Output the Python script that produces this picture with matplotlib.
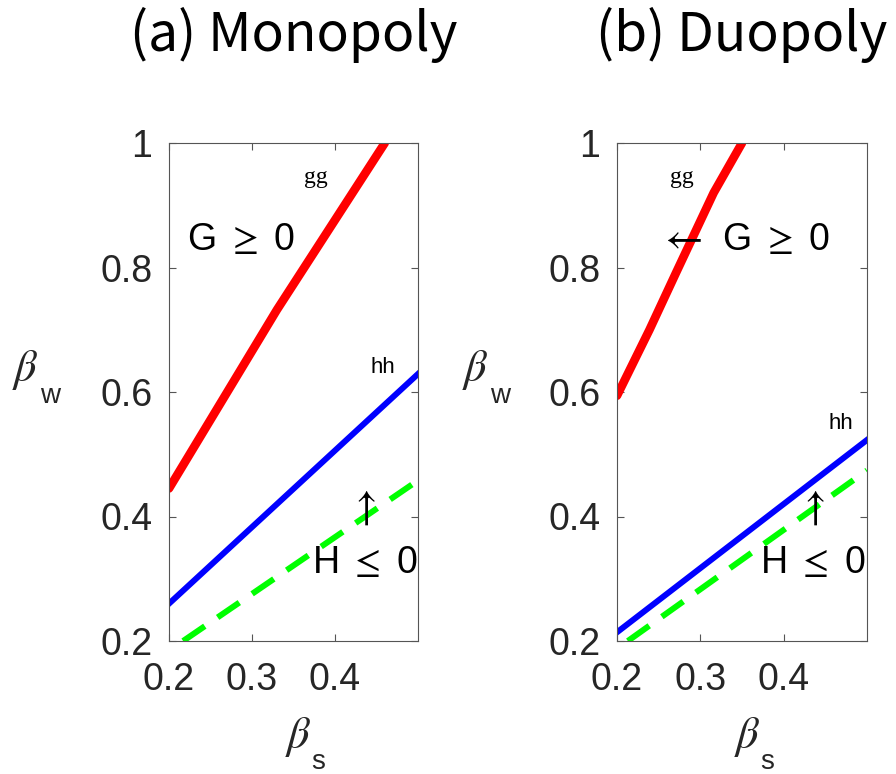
import numpy as np
import matplotlib
matplotlib.use("Agg")
from matplotlib import pyplot as plt

plt.rcParams['font.family'] = ['Liberation Sans', 'DejaVu Sans']

# monopoly curves (beta_s, beta_w)
mono_gg_bs = [0.2, 0.33, 0.46]
mono_gg_bw = [0.445, 0.732, 1.0]
mono_hh_bs = [0.2, 0.5]
mono_hh_bw = [0.26, 0.629]
mono_dash_bs = [0.217, 0.5]
mono_dash_bw = [0.2, 0.458]

# duopoly curves
duo_gg_bs = [0.2, 0.239, 0.271, 0.316, 0.35]
duo_gg_bw = [0.594, 0.70, 0.792, 0.92, 1.0]
duo_hh_bs = [0.2, 0.5]
duo_hh_bw = [0.214, 0.523]
duo_dash_bs = [0.213, 0.5]
duo_dash_bw = [0.2, 0.474]

titles = ["(a) Monopoly", "(b) Duopoly"]
xticks = [0.2, 0.3, 0.4]
xtick_labels = ["0.2", "0.3", "0.4"]
yticks = [0.2, 0.4, 0.6, 0.8, 1.0]
ytick_labels = ["0.2", "0.4", "0.6", "0.8", "1"]

txt = '#262626'
fig = plt.figure(figsize=(8.96, 7.74), dpi=100)
ax1 = fig.add_axes([169/896, 1-641/774, 249/896, 498/774])
ax2 = fig.add_axes([617/896, 1-641/774, 250/896, 498/774])

curves = [(mono_gg_bs, mono_gg_bw, mono_hh_bs, mono_hh_bw, mono_dash_bs, mono_dash_bw),
          (duo_gg_bs, duo_gg_bw, duo_hh_bs, duo_hh_bw, duo_dash_bs, duo_dash_bw)]

for ax, c, title in zip([ax1, ax2], curves, titles):
    gx, gy, hx, hy, dx, dy = c
    ax.plot(gx, gy, color='#ff0000', lw=6.2, solid_capstyle='round')
    ax.plot(hx, hy, color='#0000ff', lw=4.3)
    ax.plot(dx, dy, color='#00ff00', lw=4.3, linestyle=(0, (4.4, 2.6)))
    ax.set_xlim(0.2, 0.5)
    ax.set_ylim(0.2, 1.0)
    ax.set_xticks(xticks)
    ax.set_xticklabels(xtick_labels)
    ax.set_yticks(yticks)
    ax.set_yticklabels(ytick_labels)
    ax.tick_params(direction='in', length=5, width=0.8, colors='#555555',
                   labelcolor=txt, labelsize=27, top=True, right=True)
    ax.tick_params(axis='x', pad=15)
    ax.tick_params(axis='y', pad=12)
    for s in ax.spines.values():
        s.set_color('#555555')
        s.set_linewidth(0.8)
    ax.text(0.5, 1.185, title, transform=ax.transAxes, ha='center', va='baseline',
            fontsize=38.5, family=['Noto Sans CJK JP', 'DejaVu Sans'], color='black')

# annotations, monopoly
ax1.text(0.377, 0.944, "gg", ha='center', va='center', fontsize=17, family='Liberation Serif')
ax1.text(0.222, 0.844, "G $\\geq$ 0", ha='left', va='center', fontsize=27, math_fontfamily='stix')
ax1.text(0.458, 0.639, "hh", ha='center', va='center', fontsize=16)
ax1.text(0.433, 0.414, "$\\uparrow$", ha='center', va='center', fontsize=30, math_fontfamily='stix')
ax1.text(0.372, 0.325, "H $\\leq$ 0", ha='left', va='center', fontsize=27, math_fontfamily='stix')

# annotations, duopoly
ax2.text(0.278, 0.944, "gg", ha='center', va='center', fontsize=17, family='Liberation Serif')
ax2.text(0.249, 0.847, "$\\leftarrow$", ha='left', va='center', fontsize=30, math_fontfamily='stix')
ax2.text(0.326, 0.844, "G $\\geq$ 0", ha='left', va='center', fontsize=27, math_fontfamily='stix')
ax2.text(0.469, 0.55, "hh", ha='center', va='center', fontsize=16)
ax2.text(0.433, 0.414, "$\\uparrow$", ha='center', va='center', fontsize=30, math_fontfamily='stix')
ax2.text(0.372, 0.325, "H $\\leq$ 0", ha='left', va='center', fontsize=27, math_fontfamily='stix')

# axis labels (beta with sans subscript, MATLAB style)
for bx, by, sub, sx, sy in [(25/896, 370/774, "w", 50/896, 396/774),
                            (298/896, 737/774, "s", 318/896, 762/774),
                            (475/896, 370/774, "w", 500/896, 396/774),
                            (747/896, 737/774, "s", 767/896, 762/774)]:
    fig.text(bx, 1-by, "$\\beta$", ha='center', va='center', fontsize=32, color=txt,
             math_fontfamily='stix')
    fig.text(sx, 1-sy, sub, ha='center', va='center', fontsize=20, color=txt)

plt.savefig("out.png", dpi=100)
